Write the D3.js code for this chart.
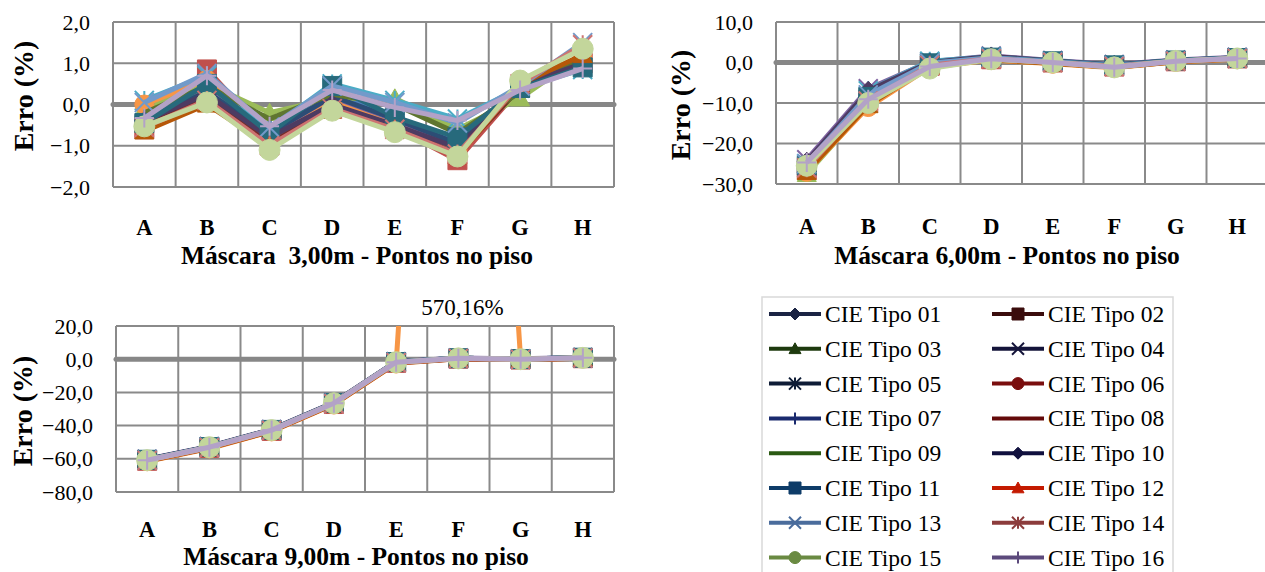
<!DOCTYPE html>
<html><head><meta charset="utf-8">
<script src="https://cdn.jsdelivr.net/npm/d3@7"></script>
<style>
body{margin:0;background:#fff}
svg{display:block}
</style>
</head><body>
<svg id="c" width="1265" height="572"></svg>
<script>
// ---------------- DATA ----------------
const categories = ["A","B","C","D","E","F","G","H"];
const seriesNames = ["CIE Tipo 01","CIE Tipo 02","CIE Tipo 03","CIE Tipo 04","CIE Tipo 05","CIE Tipo 06","CIE Tipo 07","CIE Tipo 08",
  "CIE Tipo 09","CIE Tipo 10","CIE Tipo 11","CIE Tipo 12","CIE Tipo 13","CIE Tipo 14","CIE Tipo 15","CIE Tipo 16"];
const markerTypes = ["diamond","square","triangle","x","star","circle","plus","none","none","diamond","square","triangle","x","star","circle","plus"];
const lineColors = ["#4F81BD","#C0504D","#9BBB59","#8064A2","#4BACC6","#F79646","#2C4D75","#772C2A",
  "#5F7530","#4D3B62","#276A7C","#B65708","#729ACA","#CD7371","#C3D69B","#B3A2C7"];
const legendColors = ["#1b2444","#3a0c0c","#1e3a0e","#14143a","#0e1c36","#7a0e0e","#1a2a6e","#640a0a",
  "#2a5a12","#10103e","#0e3c68","#c41a00","#4a6c9c","#8c3c3c","#6a8a42","#5c4a7c"];

// Máscara 3,00m
const values3m = [
  [-0.30, 0.40,-0.60, 0.30,-0.30,-0.90, 0.35, 1.00],
  [-0.60, 0.85,-0.80, 0.00,-0.55,-1.35, 0.40, 1.00],
  [-0.10, 0.50,-0.20, 0.15, 0.15,-0.60, 0.15, 1.20],
  [-0.20, 0.35,-0.75, 0.10,-0.45,-1.00, 0.40, 1.10],
  [ 0.10, 0.70,-0.60, 0.50, 0.10,-0.35, 0.40, 0.85],
  [ 0.00, 0.60,-0.85, 0.05,-0.50,-1.10, 0.40, 1.10],
  [-0.35, 0.30,-0.70, 0.20,-0.35,-0.95, 0.40, 1.00],
  [-0.50, 0.20,-0.95,-0.05,-0.55,-1.20, 0.40, 1.05],
  [-0.20, 0.45,-0.35, 0.25, 0.00,-0.70, 0.30, 1.15],
  [-0.40, 0.25,-0.80, 0.00,-0.50,-1.05, 0.45, 1.00],
  [-0.45, 0.50,-0.70, 0.45,-0.30,-0.80, 0.40, 0.90],
  [-0.65, 0.00,-1.00,-0.15,-0.60,-1.25, 0.50, 1.20],
  [ 0.05, 0.75,-0.55, 0.45, 0.05,-0.45, 0.45, 1.50],
  [-0.55, 0.10,-1.00,-0.10,-0.60,-1.20, 0.50, 1.45],
  [-0.53, 0.05,-1.10,-0.15,-0.67,-1.26, 0.58, 1.35],
  [-0.33, 0.70,-0.53, 0.35,-0.07,-0.39, 0.35, 0.87]
];
// Máscara 6,00m
const values6m = [
  [-26.0, -9.5,-0.5, 1.0, 0.2,-0.8, 0.4, 1.2],
  [-26.5,-10.0,-0.8, 0.8, 0.0,-1.0, 0.3, 1.0],
  [-27.5,-10.5,-1.0, 0.7,-0.2,-1.2, 0.2, 0.9],
  [-24.0, -6.5, 0.2, 1.6, 0.5,-0.5, 0.6, 1.3],
  [-25.0, -7.0, 0.3, 1.4, 0.4,-0.6, 0.5, 1.2],
  [-27.0,-11.0,-1.2, 0.6,-0.3,-1.3, 0.2, 0.8],
  [-25.5, -8.5,-0.3, 1.1, 0.2,-0.8, 0.4, 1.1],
  [-26.0, -9.0,-0.6, 0.9, 0.0,-1.0, 0.3, 1.0],
  [-26.5,-10.0,-0.9, 0.8,-0.1,-1.1, 0.3, 1.0],
  [-24.5, -7.0, 0.0, 1.5, 0.4,-0.6, 0.5, 1.2],
  [-25.5, -8.5,-0.2, 1.2, 0.3,-0.7, 0.5, 1.1],
  [-27.0,-10.5,-1.0, 0.7,-0.2,-1.2, 0.2, 0.9],
  [-25.0, -8.0,-0.2, 1.2, 0.2,-0.8, 0.4, 1.1],
  [-26.0, -9.5,-0.7, 0.9, 0.0,-1.0, 0.3, 1.0],
  [-25.5,-10.0,-1.5, 0.8, 0.0,-1.2, 0.4, 1.0],
  [-24.7, -9.1,-1.0, 0.9, 0.0,-1.2, 0.3, 1.0]
];
// Máscara 9,00m
const values9m = [
  [-60.5,-52.8,-42.5,-26.3,-1.6, 0.6, 0.1, 0.9],
  [-61.2,-53.5,-43.2,-27.0,-2.2, 0.3,-0.2, 0.6],
  [-60.8,-53.0,-42.8,-26.6,-1.9, 0.5, 0.0, 0.8],
  [-60.3,-52.6,-42.3,-26.1,-1.5, 0.7, 0.2, 1.0],
  [-60.6,-52.9,-42.6,-26.4,-1.7, 0.6, 0.1, 0.9],
  [-61.5,-53.8,-43.5,-27.3,-2.6, 570.16, 0.0, 0.5],
  [-60.7,-53.0,-42.7,-26.5,-1.8, 0.5, 0.0, 0.8],
  [-61.0,-53.3,-43.0,-26.8,-2.0, 0.4,-0.1, 0.7],
  [-60.9,-53.1,-42.8,-26.6,-1.9, 0.5, 0.0, 0.8],
  [-60.4,-52.7,-42.4,-26.2,-1.6, 0.6, 0.1, 0.9],
  [-60.6,-52.9,-42.6,-26.4,-1.7, 0.6, 0.1, 0.9],
  [-61.3,-53.6,-43.3,-27.1,-2.4, 0.3,-0.2, 0.6],
  [-60.7,-53.0,-42.7,-26.5,-1.8, 0.5, 0.0, 0.8],
  [-61.0,-53.3,-43.0,-26.8,-2.1, 0.4,-0.1, 0.7],
  [-60.8,-53.0,-42.7,-26.5,-1.8, 0.5, 0.0, 0.8],
  [-60.8,-53.0,-42.7,-26.5,-1.8, 0.5, 0.0, 0.8]
];
const ticks3m = [-2,-1,0,1,2];
const ticks6m = [-30,-20,-10,0,10];
const ticks9m = [-80,-60,-40,-20,0,20];
const titles = ["Máscara  3,00m - Pontos no piso","Máscara 6,00m - Pontos no piso","Máscara 9,00m - Pontos no piso"];
const yTitle = "Erro (%)";
const annotationText = "570,16%";

// ---------------- DRAW ----------------
const FONT = "Liberation Serif";
const svg = d3.select("#c");
const fmt = v => d3.format(".1f")(v).replace(".", ",");
const gridColor = "#8a8a8a";

function markerPath(type, r){
  switch(type){
    case "diamond": return `M0,${-r}L${r},0L0,${r}L${-r},0Z`;
    case "square": return `M${-r},${-r}H${r}V${r}H${-r}Z`;
    case "triangle": return `M0,${-r}L${r},${r*0.8}L${-r},${r*0.8}Z`;
    case "circle": return d3.arc()({innerRadius:0,outerRadius:r,startAngle:0,endAngle:2*Math.PI});
    case "x": return `M${-r},${-r}L${r},${r}M${-r},${r}L${r},${-r}`;
    case "star": return `M${-r},${-r}L${r},${r}M${-r},${r}L${r},${-r}M0,${-r}L0,${r}`;
    case "plus": return `M${-r},0L${r},0M0,${-r}L0,${r}`;
    default: return null;
  }
}
const filled = t => ["diamond","square","triangle","circle"].includes(t);

function txt(sel){ return sel.style("font-family", FONT).attr("fill", "#000"); }

function panel(id, box, domain, ticks, data, title, titleX, titleY, catY, yTitlePos){
  const g = svg.append("g");
  const x = d3.scaleBand().domain(categories).range([box.l, box.r]);
  const y = d3.scaleLinear().domain(domain).range([box.b, box.t]);
  g.append("g").selectAll("line").data(ticks).join("line")
    .attr("x1", box.l).attr("x2", box.r).attr("y1", d=>y(d)).attr("y2", d=>y(d))
    .attr("stroke", gridColor).attr("stroke-width", 2);
  const vx = categories.map(c=>x(c)).concat([box.r]);
  g.append("g").selectAll("line").data(vx).join("line")
    .attr("x1", d=>d).attr("x2", d=>d).attr("y1", box.t).attr("y2", box.b)
    .attr("stroke", gridColor).attr("stroke-width", 2);
  g.append("line").attr("x1", box.l).attr("x2", box.r).attr("y1", y(0)).attr("y2", y(0))
    .attr("stroke", "#878787").attr("stroke-width", 5).attr("stroke-linecap","round");
  const yAxis = d3.axisLeft(y).tickValues(ticks).tickFormat(fmt).tickSize(0).tickPadding(0);
  const ya = g.append("g").attr("transform", `translate(${box.l-23},0)`).call(yAxis);
  ya.attr("font-family", null);
  ya.select(".domain").remove();
  txt(ya.selectAll("text")).attr("font-size", 22);
  const xAxis = d3.axisBottom(x).tickSize(0).tickPadding(0);
  const xa = g.append("g").attr("transform", `translate(0,${catY})`).call(xAxis);
  xa.attr("font-family", null);
  xa.select(".domain").remove();
  txt(xa.selectAll("text")).attr("font-size", 22.5).attr("font-weight","bold").attr("dy","0");
  txt(g.append("text")).attr("x", titleX).attr("y", titleY).style("white-space","pre")
    .attr("text-anchor","middle").attr("font-size", 25.5).attr("font-weight","bold").text(title);
  txt(g.append("text")).attr("transform", `translate(${yTitlePos[0]},${yTitlePos[1]}) rotate(-90)`)
    .attr("text-anchor","middle").attr("dominant-baseline","central")
    .attr("font-size", 28).attr("font-weight","bold").text(yTitle);
  svg.append("clipPath").attr("id", "clip"+id).append("rect")
    .attr("x", box.l).attr("y", box.t).attr("width", box.r-box.l).attr("height", box.b-box.t);
  const line = d3.line().x((d,i)=>x(categories[i]) + x.bandwidth()/2).y(d=>y(d));
  data.forEach((vals, s) => {
    const sg = g.append("g");
    sg.append("path").attr("d", line(vals)).attr("fill","none")
      .attr("stroke", lineColors[s]).attr("stroke-width", 5).attr("stroke-linejoin","round")
      .attr("clip-path", `url(#clip${id})`);
    const t = markerTypes[s];
    if (t !== "none") {
      const r = t === "circle" && s === 14 ? 10.5 : 9.5;
      sg.selectAll("path.m").data(vals.map((v,i)=>({v,i})).filter(d=>d.v>=domain[0]&&d.v<=domain[1]))
        .join("path").attr("class","m")
        .attr("transform", d=>`translate(${x(categories[d.i]) + x.bandwidth()/2},${y(d.v)})`)
        .attr("d", markerPath(t, r))
        .attr("fill", filled(t) ? lineColors[s] : "none")
        .attr("stroke", lineColors[s]).attr("stroke-width", filled(t) ? 1 : 2);
    }
  });
  return {x, y};
}

panel(1, {l:113, r:614, t:22, b:187}, [-2,2], ticks3m, values3m, titles[0], 357, 264, 235, [23, 96]);
panel(2, {l:776, r:1268, t:22, b:184}, [-30,10], ticks6m, values6m, titles[1], 1007, 264, 234, [680, 105]);
const p3 = panel(3, {l:116, r:614, t:326, b:492}, [-80,20], ticks9m, values9m, titles[2], 356, 565, 537, [22, 411]);

txt(svg.append("text")).attr("x", p3.x("F") + p3.x.bandwidth()/2 + 4).attr("y", 315)
  .attr("text-anchor","middle").attr("font-size", 23).text(annotationText);

// ---------------- LEGEND ----------------
const lg = svg.append("g");
lg.append("rect").attr("x", 762).attr("y", 297).attr("width", 411).attr("height", 300)
  .attr("fill","#fff").attr("stroke","#d9d9d9").attr("stroke-width", 1.5);
seriesNames.forEach((name, i) => {
  const col = i % 2, row = Math.floor(i/2);
  const x0 = col === 0 ? 769 : 992;
  const yy = 314 + row * 34.8;
  const item = lg.append("g");
  item.append("line").attr("x1", x0).attr("x2", x0+52).attr("y1", yy).attr("y2", yy)
    .attr("stroke", legendColors[i]).attr("stroke-width", 4);
  const t = markerTypes[i];
  if (t !== "none") {
    item.append("path").attr("transform", `translate(${x0+26},${yy})`)
      .attr("d", markerPath(t, 6))
      .attr("fill", filled(t) ? legendColors[i] : "none")
      .attr("stroke", legendColors[i]).attr("stroke-width", filled(t) ? 1 : 2);
  }
  txt(item.append("text")).attr("x", x0+56).attr("y", yy).attr("dominant-baseline","central")
    .attr("font-size", 23.5).text(name);
});
</script>
</body></html>
